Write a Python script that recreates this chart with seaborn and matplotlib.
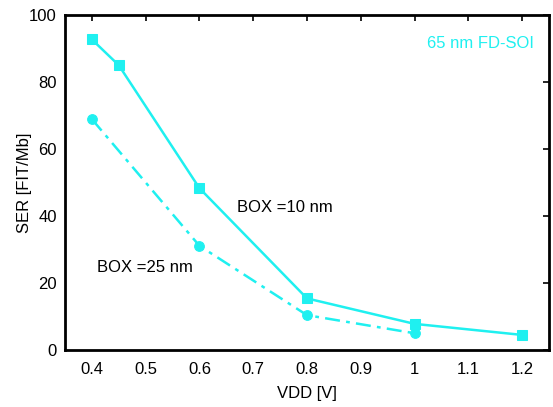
import matplotlib
matplotlib.use("Agg")
import matplotlib.pyplot as plt
import seaborn as sns
import pandas as pd

vdd_10 = [0.4, 0.45, 0.6, 0.8, 1.0, 1.2]
ser_10 = [92.7, 85.0, 48.3, 15.4, 7.8, 4.5]
vdd_25 = [0.4, 0.6, 0.8, 1.0]
ser_25 = [68.9, 31.1, 10.4, 5.0]
xticks = [0.4, 0.5, 0.6, 0.7, 0.8, 0.9, 1.0, 1.1, 1.2]
xticklabels = ["0.4", "0.5", "0.6", "0.7", "0.8", "0.9", "1", "1.1", "1.2"]
yticks = [0, 20, 40, 60, 80, 100]

sns.set_style("white")
plt.rcParams['font.family'] = ['Liberation Sans', 'DejaVu Sans']
plt.rcParams['text.color'] = 'black'
plt.rcParams['axes.labelcolor'] = 'black'
plt.rcParams['xtick.color'] = 'black'
plt.rcParams['ytick.color'] = 'black'

color = '#1ff0f0'
fig = plt.figure(figsize=(5.53, 4.07), dpi=100)
ax = fig.add_axes([65/553, 57/407, 484/553, 335/407])

df10 = pd.DataFrame({'VDD': vdd_10, 'SER': ser_10})
df25 = pd.DataFrame({'VDD': vdd_25, 'SER': ser_25})
sns.lineplot(data=df10, x='VDD', y='SER', ax=ax, color=color, marker='s',
             markersize=7, markeredgecolor=color, linewidth=1.8)
sns.lineplot(data=df25, x='VDD', y='SER', ax=ax, color=color, marker='o',
             markersize=7, markeredgecolor=color, linewidth=1.8, linestyle=(0, (6, 2.5, 1.5, 2.5)))

ax.set_xlim(0.35, 1.25)
ax.set_ylim(0, 100)
ax.set_xticks(xticks)
ax.set_xticklabels(xticklabels)
ax.set_yticks(yticks)
ax.tick_params(direction='in', top=True, right=True, labelsize=12, length=4, width=1.2, pad=6,
               colors='black')
ax.tick_params(axis='x', pad=9)
for s in ax.spines.values():
    s.set_linewidth(2)
    s.set_color('black')
ax.set_xlabel('VDD [V]', fontsize=12, color='black', labelpad=6)
ax.set_ylabel('SER [FIT/Mb]', fontsize=12, color='black', labelpad=-2)

ax.text(0.97, 0.915, '65 nm FD-SOI', transform=ax.transAxes, color=color,
        fontsize=12, ha='right', va='center')
ax.text(0.67, 42.5, 'BOX =10 nm', fontsize=12, ha='left', va='center', color='black')
ax.text(0.41, 24.5, 'BOX =25 nm', fontsize=12, ha='left', va='center', color='black')

fig.savefig('out.png', dpi=100)
